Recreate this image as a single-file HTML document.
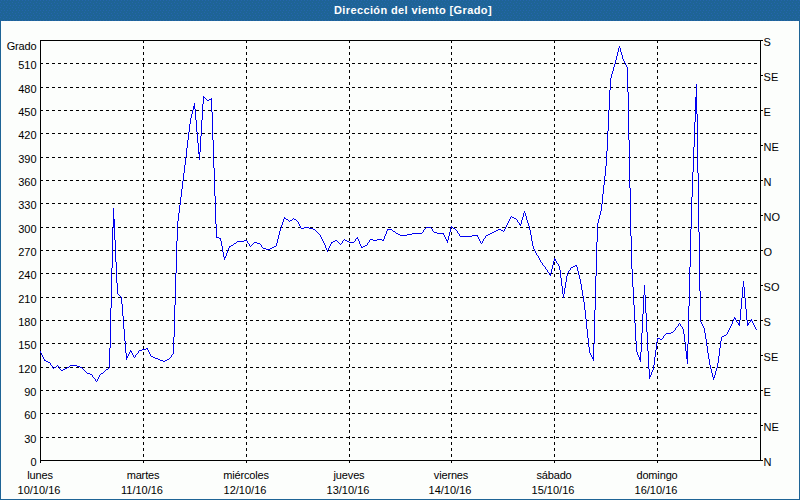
<!DOCTYPE html>
<html><head><meta charset="utf-8"><title>Dirección del viento [Grado]</title>
<style>
html,body{margin:0;padding:0;background:#fcfefc;}
body{width:800px;height:500px;overflow:hidden;position:relative;font-family:"Liberation Sans",sans-serif;}
#frame{position:absolute;left:0;top:0;width:800px;height:500px;box-sizing:border-box;border:1px solid #1e6496;border-top:none;background:#fcfefc;}
#bar{position:absolute;left:0;top:0;width:800px;height:21px;background:#1e6496;}
#title{position:absolute;left:334px;top:0;height:21px;color:#fff;font:bold 11px "Liberation Sans",sans-serif;line-height:21px;white-space:nowrap;letter-spacing:0.38px;}
</style></head><body>
<div id="frame"></div>
<div id="bar"><svg width="800" height="21" style="display:block" shape-rendering="crispEdges"><defs><pattern id="dz" width="6" height="5" patternUnits="userSpaceOnUse"><rect width="6" height="5" fill="#1e6496"/><rect x="1" y="0" width="1" height="1" fill="#2565ad"/><rect x="4" y="0" width="1" height="1" fill="#2565ad"/><rect x="0" y="2" width="1" height="1" fill="#2565ad"/><rect x="3" y="3" width="1" height="1" fill="#2565ad"/></pattern></defs><rect width="800" height="21" fill="url(#dz)"/></svg></div>
<div id="title">Dirección del viento [Grado]</div>
<svg width="800" height="500" viewBox="0 0 800 500" style="position:absolute;left:0;top:0">
<g shape-rendering="crispEdges" stroke="#000" stroke-width="1" fill="none">
<line x1="40" x2="760" y1="437.5" y2="437.5" stroke-dasharray="3 3"/>
<line x1="40" x2="760" y1="413.5" y2="413.5" stroke-dasharray="3 3"/>
<line x1="40" x2="760" y1="390.5" y2="390.5" stroke-dasharray="3 3"/>
<line x1="40" x2="760" y1="367.5" y2="367.5" stroke-dasharray="3 3"/>
<line x1="40" x2="760" y1="343.5" y2="343.5" stroke-dasharray="3 3"/>
<line x1="40" x2="760" y1="320.5" y2="320.5" stroke-dasharray="3 3"/>
<line x1="40" x2="760" y1="297.5" y2="297.5" stroke-dasharray="3 3"/>
<line x1="40" x2="760" y1="273.5" y2="273.5" stroke-dasharray="3 3"/>
<line x1="40" x2="760" y1="250.5" y2="250.5" stroke-dasharray="3 3"/>
<line x1="40" x2="760" y1="227.5" y2="227.5" stroke-dasharray="3 3"/>
<line x1="40" x2="760" y1="203.5" y2="203.5" stroke-dasharray="3 3"/>
<line x1="40" x2="760" y1="180.5" y2="180.5" stroke-dasharray="3 3"/>
<line x1="40" x2="760" y1="157.5" y2="157.5" stroke-dasharray="3 3"/>
<line x1="40" x2="760" y1="133.5" y2="133.5" stroke-dasharray="3 3"/>
<line x1="40" x2="760" y1="110.5" y2="110.5" stroke-dasharray="3 3"/>
<line x1="40" x2="760" y1="87.5" y2="87.5" stroke-dasharray="3 3"/>
<line x1="40" x2="760" y1="63.5" y2="63.5" stroke-dasharray="3 3"/>
<line x1="143.5" x2="143.5" y1="40" y2="460" stroke-dasharray="3 3"/>
<line x1="246.5" x2="246.5" y1="40" y2="460" stroke-dasharray="3 3"/>
<line x1="349.5" x2="349.5" y1="40" y2="460" stroke-dasharray="3 3"/>
<line x1="451.5" x2="451.5" y1="40" y2="460" stroke-dasharray="3 3"/>
<line x1="554.5" x2="554.5" y1="40" y2="460" stroke-dasharray="3 3"/>
<line x1="657.5" x2="657.5" y1="40" y2="460" stroke-dasharray="3 3"/>
<rect x="40.5" y="40.5" width="720" height="420"/>
<line x1="40.5" x2="40.5" y1="461" y2="463"/>
<line x1="143.5" x2="143.5" y1="461" y2="463"/>
<line x1="246.5" x2="246.5" y1="461" y2="463"/>
<line x1="349.5" x2="349.5" y1="461" y2="463"/>
<line x1="451.5" x2="451.5" y1="461" y2="463"/>
<line x1="554.5" x2="554.5" y1="461" y2="463"/>
<line x1="657.5" x2="657.5" y1="461" y2="463"/>
<line x1="761" x2="763" y1="40.5" y2="40.5"/>
<line x1="761" x2="763" y1="75.5" y2="75.5"/>
<line x1="761" x2="763" y1="110.5" y2="110.5"/>
<line x1="761" x2="763" y1="145.5" y2="145.5"/>
<line x1="761" x2="763" y1="180.5" y2="180.5"/>
<line x1="761" x2="763" y1="215.5" y2="215.5"/>
<line x1="761" x2="763" y1="250.5" y2="250.5"/>
<line x1="761" x2="763" y1="285.5" y2="285.5"/>
<line x1="761" x2="763" y1="320.5" y2="320.5"/>
<line x1="761" x2="763" y1="355.5" y2="355.5"/>
<line x1="761" x2="763" y1="390.5" y2="390.5"/>
<line x1="761" x2="763" y1="425.5" y2="425.5"/>
<line x1="761" x2="763" y1="460.5" y2="460.5"/>
</g>
<path d="M40 351h1v2h-1zM41 353h1v2h-1zM42 355h1v2h-1zM43 357h1v2h-1zM44 359h1v2h-1zM45 360h1v1h-1zM46 361h1v1h-1zM47 361h1v1h-1zM48 362h1v1h-1zM49 362h1v1h-1zM50 363h1v2h-1zM51 365h1v1h-1zM52 366h1v2h-1zM53 368h1v1h-1zM54 367h1v1h-1zM55 367h1v1h-1zM56 366h1v1h-1zM57 365h1v1h-1zM58 366h1v1h-1zM59 367h1v2h-1zM60 369h1v1h-1zM61 370h1v1h-1zM62 370h1v1h-1zM63 369h1v1h-1zM64 369h1v1h-1zM65 368h1v1h-1zM66 368h1v1h-1zM67 367h1v1h-1zM68 367h1v1h-1zM69 366h1v1h-1zM70 365h1v1h-1zM71 365h1v1h-1zM72 365h1v1h-1zM73 365h1v1h-1zM74 365h1v1h-1zM75 365h1v1h-1zM76 365h1v1h-1zM77 366h1v1h-1zM78 366h1v1h-1zM79 366h1v1h-1zM80 367h1v1h-1zM81 367h1v1h-1zM82 368h1v1h-1zM83 369h1v1h-1zM84 370h1v1h-1zM85 371h1v1h-1zM86 372h1v1h-1zM87 373h1v1h-1zM88 373h1v1h-1zM89 373h1v1h-1zM90 374h1v1h-1zM91 374h1v1h-1zM92 375h1v2h-1zM93 377h1v1h-1zM94 378h1v1h-1zM95 379h1v2h-1zM96 381h1v1h-1zM97 379h1v2h-1zM98 377h1v2h-1zM99 375h1v2h-1zM100 374h1v1h-1zM101 373h1v1h-1zM102 373h1v1h-1zM103 372h1v1h-1zM104 371h1v1h-1zM105 370h1v1h-1zM106 369h1v1h-1zM107 369h1v1h-1zM108 368h1v1h-1zM109 348h1v20h-1zM110 308h1v40h-1zM111 268h1v40h-1zM112 228h1v40h-1zM113 208h1v20h-1zM114 219h1v21h-1zM115 240h1v22h-1zM116 262h1v21h-1zM117 283h1v11h-1zM118 294h1v1h-1zM119 295h1v1h-1zM120 296h1v1h-1zM121 297h1v7h-1zM122 304h1v12h-1zM123 316h1v13h-1zM124 329h1v12h-1zM125 341h1v12h-1zM126 353h1v7h-1zM127 356h1v2h-1zM128 354h1v2h-1zM129 352h1v2h-1zM130 350h1v2h-1zM131 351h1v2h-1zM132 353h1v2h-1zM133 355h1v2h-1zM134 357h1v1h-1zM135 355h1v2h-1zM136 354h1v1h-1zM137 353h1v1h-1zM138 351h1v2h-1zM139 350h1v1h-1zM140 350h1v1h-1zM141 350h1v1h-1zM142 349h1v1h-1zM143 349h1v1h-1zM144 349h1v1h-1zM145 349h1v1h-1zM146 348h1v1h-1zM147 348h1v2h-1zM148 350h1v2h-1zM149 352h1v2h-1zM150 354h1v2h-1zM151 356h1v1h-1zM152 356h1v1h-1zM153 357h1v1h-1zM154 357h1v1h-1zM155 358h1v1h-1zM156 358h1v1h-1zM157 358h1v1h-1zM158 359h1v1h-1zM159 359h1v1h-1zM160 360h1v1h-1zM161 360h1v1h-1zM162 360h1v1h-1zM163 361h1v1h-1zM164 361h1v1h-1zM165 360h1v1h-1zM166 360h1v1h-1zM167 359h1v1h-1zM168 359h1v1h-1zM169 358h1v1h-1zM170 357h1v1h-1zM171 355h1v2h-1zM172 354h1v1h-1zM173 337h1v17h-1zM174 305h1v32h-1zM175 273h1v32h-1zM176 241h1v32h-1zM177 221h1v20h-1zM178 213h1v8h-1zM179 205h1v8h-1zM180 197h1v8h-1zM181 189h1v8h-1zM182 181h1v8h-1zM183 173h1v8h-1zM184 165h1v8h-1zM185 157h1v8h-1zM186 148h1v9h-1zM187 140h1v8h-1zM188 132h1v8h-1zM189 124h1v8h-1zM190 118h1v6h-1zM191 114h1v4h-1zM192 110h1v4h-1zM193 106h1v4h-1zM194 103h1v6h-1zM195 109h1v11h-1zM196 120h1v12h-1zM197 132h1v11h-1zM198 143h1v11h-1zM199 152h1v8h-1zM200 136h1v16h-1zM201 120h1v16h-1zM202 104h1v16h-1zM203 96h1v8h-1zM204 97h1v1h-1zM205 98h1v1h-1zM206 99h1v1h-1zM207 100h1v1h-1zM208 100h1v1h-1zM209 99h1v1h-1zM210 99h1v1h-1zM211 98h1v14h-1zM212 112h1v28h-1zM213 140h1v28h-1zM214 168h1v28h-1zM215 196h1v28h-1zM216 224h1v14h-1zM217 237h1v1h-1zM218 237h1v1h-1zM219 238h1v1h-1zM220 238h1v3h-1zM221 241h1v5h-1zM222 246h1v6h-1zM223 252h1v5h-1zM224 257h1v3h-1zM225 256h1v2h-1zM226 253h1v3h-1zM227 250h1v3h-1zM228 248h1v2h-1zM229 246h1v2h-1zM230 246h1v1h-1zM231 245h1v1h-1zM232 245h1v1h-1zM233 244h1v1h-1zM234 243h1v1h-1zM235 243h1v1h-1zM236 242h1v1h-1zM237 241h1v1h-1zM238 241h1v1h-1zM239 241h1v1h-1zM240 241h1v1h-1zM241 241h1v1h-1zM242 241h1v1h-1zM243 241h1v1h-1zM244 240h1v1h-1zM245 240h1v1h-1zM246 240h1v1h-1zM247 241h1v2h-1zM248 243h1v1h-1zM249 244h1v2h-1zM250 246h1v1h-1zM251 245h1v1h-1zM252 244h1v1h-1zM253 243h1v1h-1zM254 242h1v1h-1zM255 242h1v1h-1zM256 242h1v1h-1zM257 243h1v1h-1zM258 243h1v1h-1zM259 243h1v1h-1zM260 244h1v1h-1zM261 245h1v2h-1zM262 247h1v1h-1zM263 248h1v1h-1zM264 248h1v1h-1zM265 248h1v1h-1zM266 249h1v1h-1zM267 249h1v1h-1zM268 249h1v1h-1zM269 249h1v1h-1zM270 248h1v1h-1zM271 248h1v1h-1zM272 247h1v1h-1zM273 247h1v1h-1zM274 246h1v1h-1zM275 246h1v1h-1zM276 243h1v3h-1zM277 239h1v4h-1zM278 235h1v4h-1zM279 231h1v4h-1zM280 228h1v3h-1zM281 225h1v3h-1zM282 222h1v3h-1zM283 219h1v3h-1zM284 217h1v2h-1zM285 218h1v1h-1zM286 219h1v1h-1zM287 219h1v1h-1zM288 220h1v1h-1zM289 221h1v1h-1zM290 220h1v1h-1zM291 220h1v1h-1zM292 219h1v1h-1zM293 218h1v1h-1zM294 219h1v1h-1zM295 219h1v1h-1zM296 220h1v1h-1zM297 221h1v1h-1zM298 222h1v2h-1zM299 224h1v2h-1zM300 226h1v2h-1zM301 228h1v1h-1zM302 228h1v1h-1zM303 228h1v1h-1zM304 227h1v1h-1zM305 227h1v1h-1zM306 227h1v1h-1zM307 227h1v1h-1zM308 227h1v1h-1zM309 228h1v1h-1zM310 228h1v1h-1zM311 228h1v1h-1zM312 228h1v1h-1zM313 229h1v1h-1zM314 229h1v1h-1zM315 230h1v1h-1zM316 231h1v1h-1zM317 232h1v1h-1zM318 233h1v1h-1zM319 234h1v1h-1zM320 235h1v2h-1zM321 237h1v2h-1zM322 239h1v2h-1zM323 241h1v2h-1zM324 243h1v2h-1zM325 245h1v3h-1zM326 248h1v2h-1zM327 250h1v2h-1zM328 248h1v2h-1zM329 246h1v2h-1zM330 244h1v2h-1zM331 242h1v2h-1zM332 242h1v1h-1zM333 241h1v1h-1zM334 241h1v1h-1zM335 240h1v1h-1zM336 240h1v1h-1zM337 241h1v1h-1zM338 242h1v1h-1zM339 243h1v1h-1zM340 244h1v1h-1zM341 243h1v1h-1zM342 241h1v2h-1zM343 240h1v1h-1zM344 239h1v1h-1zM345 240h1v1h-1zM346 240h1v1h-1zM347 241h1v1h-1zM348 241h1v1h-1zM349 242h1v1h-1zM350 242h1v1h-1zM351 242h1v1h-1zM352 242h1v1h-1zM353 242h1v1h-1zM354 241h1v1h-1zM355 239h1v2h-1zM356 238h1v1h-1zM357 237h1v2h-1zM358 239h1v2h-1zM359 241h1v3h-1zM360 244h1v2h-1zM361 246h1v2h-1zM362 247h1v1h-1zM363 246h1v1h-1zM364 246h1v1h-1zM365 245h1v1h-1zM366 245h1v1h-1zM367 243h1v2h-1zM368 242h1v1h-1zM369 240h1v2h-1zM370 239h1v1h-1zM371 239h1v1h-1zM372 239h1v1h-1zM373 240h1v1h-1zM374 240h1v1h-1zM375 240h1v1h-1zM376 240h1v1h-1zM377 239h1v1h-1zM378 239h1v1h-1zM379 239h1v1h-1zM380 239h1v1h-1zM381 239h1v1h-1zM382 240h1v1h-1zM383 239h1v2h-1zM384 236h1v3h-1zM385 234h1v2h-1zM386 231h1v3h-1zM387 229h1v2h-1zM388 229h1v1h-1zM389 229h1v1h-1zM390 229h1v1h-1zM391 229h1v1h-1zM392 230h1v1h-1zM393 231h1v1h-1zM394 231h1v1h-1zM395 232h1v1h-1zM396 233h1v1h-1zM397 233h1v1h-1zM398 234h1v1h-1zM399 234h1v1h-1zM400 235h1v1h-1zM401 235h1v1h-1zM402 235h1v1h-1zM403 235h1v1h-1zM404 235h1v1h-1zM405 235h1v1h-1zM406 235h1v1h-1zM407 234h1v1h-1zM408 234h1v1h-1zM409 234h1v1h-1zM410 234h1v1h-1zM411 234h1v1h-1zM412 233h1v1h-1zM413 233h1v1h-1zM414 233h1v1h-1zM415 233h1v1h-1zM416 233h1v1h-1zM417 233h1v1h-1zM418 233h1v1h-1zM419 233h1v1h-1zM420 233h1v1h-1zM421 233h1v1h-1zM422 232h1v1h-1zM423 230h1v2h-1zM424 229h1v1h-1zM425 228h1v1h-1zM426 227h1v1h-1zM427 227h1v1h-1zM428 227h1v1h-1zM429 227h1v1h-1zM430 227h1v1h-1zM431 228h1v1h-1zM432 229h1v2h-1zM433 231h1v1h-1zM434 232h1v1h-1zM435 232h1v1h-1zM436 232h1v1h-1zM437 233h1v1h-1zM438 233h1v1h-1zM439 233h1v1h-1zM440 233h1v1h-1zM441 233h1v1h-1zM442 233h1v1h-1zM443 233h1v2h-1zM444 235h1v2h-1zM445 237h1v2h-1zM446 239h1v2h-1zM447 240h1v3h-1zM448 236h1v4h-1zM449 232h1v4h-1zM450 228h1v4h-1zM451 226h1v2h-1zM452 227h1v1h-1zM453 228h1v1h-1zM454 228h1v1h-1zM455 229h1v1h-1zM456 230h1v1h-1zM457 231h1v2h-1zM458 233h1v1h-1zM459 234h1v2h-1zM460 236h1v1h-1zM461 236h1v1h-1zM462 236h1v1h-1zM463 236h1v1h-1zM464 236h1v1h-1zM465 236h1v1h-1zM466 236h1v1h-1zM467 236h1v1h-1zM468 236h1v1h-1zM469 236h1v1h-1zM470 236h1v1h-1zM471 236h1v1h-1zM472 235h1v1h-1zM473 235h1v1h-1zM474 235h1v1h-1zM475 235h1v1h-1zM476 235h1v1h-1zM477 235h1v2h-1zM478 237h1v2h-1zM479 239h1v2h-1zM480 241h1v2h-1zM481 243h1v1h-1zM482 241h1v2h-1zM483 239h1v2h-1zM484 238h1v1h-1zM485 236h1v2h-1zM486 235h1v1h-1zM487 235h1v1h-1zM488 234h1v1h-1zM489 234h1v1h-1zM490 233h1v1h-1zM491 233h1v1h-1zM492 232h1v1h-1zM493 232h1v1h-1zM494 231h1v1h-1zM495 231h1v1h-1zM496 230h1v1h-1zM497 230h1v1h-1zM498 229h1v1h-1zM499 229h1v1h-1zM500 229h1v1h-1zM501 230h1v1h-1zM502 230h1v1h-1zM503 231h1v1h-1zM504 229h1v2h-1zM505 227h1v2h-1zM506 225h1v2h-1zM507 223h1v2h-1zM508 221h1v2h-1zM509 219h1v2h-1zM510 217h1v2h-1zM511 216h1v1h-1zM512 217h1v1h-1zM513 217h1v1h-1zM514 218h1v1h-1zM515 218h1v1h-1zM516 219h1v1h-1zM517 220h1v2h-1zM518 222h1v1h-1zM519 223h1v2h-1zM520 224h1v2h-1zM521 220h1v4h-1zM522 217h1v3h-1zM523 213h1v4h-1zM524 211h1v2h-1zM525 213h1v3h-1zM526 216h1v4h-1zM527 220h1v3h-1zM528 223h1v3h-1zM529 226h1v4h-1zM530 230h1v5h-1zM531 235h1v6h-1zM532 241h1v5h-1zM533 246h1v3h-1zM534 249h1v2h-1zM535 251h1v2h-1zM536 253h1v2h-1zM537 255h1v1h-1zM538 256h1v2h-1zM539 258h1v2h-1zM540 260h1v2h-1zM541 262h1v1h-1zM542 263h1v2h-1zM543 265h1v1h-1zM544 266h1v1h-1zM545 267h1v2h-1zM546 269h1v1h-1zM547 270h1v2h-1zM548 272h1v1h-1zM549 273h1v2h-1zM550 273h1v3h-1zM551 269h1v4h-1zM552 265h1v4h-1zM553 261h1v4h-1zM554 258h1v3h-1zM555 259h1v2h-1zM556 261h1v2h-1zM557 263h1v1h-1zM558 264h1v2h-1zM559 266h1v4h-1zM560 270h1v8h-1zM561 278h1v8h-1zM562 286h1v8h-1zM563 294h1v4h-1zM564 288h1v6h-1zM565 282h1v6h-1zM566 276h1v6h-1zM567 273h1v3h-1zM568 271h1v2h-1zM569 270h1v1h-1zM570 268h1v2h-1zM571 267h1v1h-1zM572 267h1v1h-1zM573 266h1v1h-1zM574 266h1v1h-1zM575 265h1v1h-1zM576 265h1v2h-1zM577 267h1v4h-1zM578 271h1v4h-1zM579 275h1v4h-1zM580 279h1v5h-1zM581 284h1v6h-1zM582 290h1v6h-1zM583 296h1v6h-1zM584 302h1v8h-1zM585 310h1v9h-1zM586 319h1v10h-1zM587 329h1v9h-1zM588 338h1v9h-1zM589 347h1v6h-1zM590 353h1v2h-1zM591 355h1v2h-1zM592 357h1v2h-1zM593 344h1v17h-1zM594 310h1v34h-1zM595 276h1v34h-1zM596 242h1v34h-1zM597 223h1v19h-1zM598 219h1v4h-1zM599 215h1v4h-1zM600 211h1v4h-1zM601 204h1v7h-1zM602 194h1v10h-1zM603 185h1v9h-1zM604 176h1v9h-1zM605 166h1v10h-1zM606 151h1v15h-1zM607 131h1v20h-1zM608 110h1v21h-1zM609 90h1v20h-1zM610 78h1v12h-1zM611 74h1v4h-1zM612 71h1v3h-1zM613 67h1v4h-1zM614 64h1v3h-1zM615 60h1v4h-1zM616 56h1v4h-1zM617 52h1v4h-1zM618 48h1v4h-1zM619 46h1v2h-1zM620 48h1v4h-1zM621 52h1v3h-1zM622 55h1v4h-1zM623 59h1v2h-1zM624 61h1v2h-1zM625 63h1v2h-1zM626 65h1v2h-1zM627 67h1v25h-1zM628 92h1v48h-1zM629 140h1v48h-1zM630 188h1v48h-1zM631 236h1v33h-1zM632 269h1v18h-1zM633 287h1v18h-1zM634 305h1v18h-1zM635 323h1v18h-1zM636 341h1v11h-1zM637 352h1v3h-1zM638 355h1v2h-1zM639 357h1v3h-1zM640 352h1v10h-1zM641 333h1v19h-1zM642 314h1v19h-1zM643 295h1v19h-1zM644 285h1v10h-1zM645 295h1v18h-1zM646 313h1v19h-1zM647 332h1v19h-1zM648 351h1v18h-1zM649 369h1v10h-1zM650 375h1v2h-1zM651 372h1v3h-1zM652 370h1v2h-1zM653 365h1v5h-1zM654 357h1v8h-1zM655 350h1v7h-1zM656 342h1v8h-1zM657 338h1v4h-1zM658 338h1v1h-1zM659 338h1v1h-1zM660 339h1v1h-1zM661 339h1v1h-1zM662 338h1v1h-1zM663 336h1v2h-1zM664 335h1v1h-1zM665 334h1v1h-1zM666 333h1v1h-1zM667 333h1v1h-1zM668 333h1v1h-1zM669 333h1v1h-1zM670 333h1v1h-1zM671 332h1v1h-1zM672 332h1v1h-1zM673 331h1v1h-1zM674 330h1v1h-1zM675 328h1v2h-1zM676 327h1v1h-1zM677 326h1v1h-1zM678 324h1v2h-1zM679 323h1v1h-1zM680 324h1v2h-1zM681 326h1v1h-1zM682 327h1v2h-1zM683 329h1v5h-1zM684 334h1v8h-1zM685 342h1v9h-1zM686 351h1v8h-1zM687 344h1v20h-1zM688 306h1v38h-1zM689 267h1v39h-1zM690 229h1v38h-1zM691 197h1v32h-1zM692 172h1v25h-1zM693 147h1v25h-1zM694 122h1v25h-1zM695 97h1v25h-1zM696 84h1v30h-1zM697 114h1v59h-1zM698 173h1v59h-1zM699 232h1v59h-1zM700 291h1v31h-1zM701 322h1v2h-1zM702 324h1v2h-1zM703 326h1v2h-1zM704 328h1v5h-1zM705 333h1v6h-1zM706 339h1v7h-1zM707 346h1v7h-1zM708 353h1v6h-1zM709 359h1v6h-1zM710 365h1v4h-1zM711 369h1v4h-1zM712 373h1v4h-1zM713 377h1v3h-1zM714 375h1v3h-1zM715 371h1v4h-1zM716 368h1v3h-1zM717 363h1v5h-1zM718 356h1v7h-1zM719 348h1v8h-1zM720 341h1v7h-1zM721 337h1v4h-1zM722 336h1v1h-1zM723 336h1v1h-1zM724 335h1v1h-1zM725 335h1v1h-1zM726 334h1v1h-1zM727 332h1v2h-1zM728 330h1v2h-1zM729 328h1v2h-1zM730 326h1v2h-1zM731 324h1v2h-1zM732 321h1v3h-1zM733 319h1v2h-1zM734 317h1v2h-1zM735 318h1v2h-1zM736 320h1v2h-1zM737 322h1v1h-1zM738 323h1v2h-1zM739 320h1v6h-1zM740 309h1v11h-1zM741 298h1v11h-1zM742 287h1v11h-1zM743 281h1v6h-1zM744 287h1v11h-1zM745 298h1v11h-1zM746 309h1v11h-1zM747 320h1v6h-1zM748 323h1v2h-1zM749 322h1v1h-1zM750 320h1v2h-1zM751 319h1v2h-1zM752 321h1v2h-1zM753 323h1v2h-1zM754 325h1v2h-1zM755 327h1v2h-1zM756 329h1v1h-1z" fill="#0000f0" shape-rendering="crispEdges"/>
<g font-family="Liberation Sans, sans-serif" font-size="11" fill="#000">
<text x="36.5" y="466" text-anchor="end">0</text>
<text x="36.5" y="443" text-anchor="end">30</text>
<text x="36.5" y="419" text-anchor="end">60</text>
<text x="36.5" y="396" text-anchor="end">90</text>
<text x="36.5" y="373" text-anchor="end">120</text>
<text x="36.5" y="349" text-anchor="end">150</text>
<text x="36.5" y="326" text-anchor="end">180</text>
<text x="36.5" y="303" text-anchor="end">210</text>
<text x="36.5" y="279" text-anchor="end">240</text>
<text x="36.5" y="256" text-anchor="end">270</text>
<text x="36.5" y="233" text-anchor="end">300</text>
<text x="36.5" y="209" text-anchor="end">330</text>
<text x="36.5" y="186" text-anchor="end">360</text>
<text x="36.5" y="163" text-anchor="end">390</text>
<text x="36.5" y="139" text-anchor="end">420</text>
<text x="36.5" y="116" text-anchor="end">450</text>
<text x="36.5" y="93" text-anchor="end">480</text>
<text x="36.5" y="69" text-anchor="end">510</text>
<text x="36.5" y="50" text-anchor="end" letter-spacing="-0.15">Grado</text>
<text x="763.6" y="46">S</text>
<text x="763.6" y="81">SE</text>
<text x="763.6" y="116">E</text>
<text x="763.6" y="151">NE</text>
<text x="763.6" y="186">N</text>
<text x="763.6" y="221">NO</text>
<text x="763.6" y="256">O</text>
<text x="763.6" y="291">SO</text>
<text x="763.6" y="326">S</text>
<text x="763.6" y="361">SE</text>
<text x="763.6" y="396">E</text>
<text x="763.6" y="431">NE</text>
<text x="763.6" y="466">N</text>
<text x="40" y="479" text-anchor="middle" letter-spacing="-0.15">lunes</text>
<text x="39" y="494" text-anchor="middle">10/10/16</text>
<text x="143" y="479" text-anchor="middle" letter-spacing="-0.15">martes</text>
<text x="142" y="494" text-anchor="middle">11/10/16</text>
<text x="246" y="479" text-anchor="middle" letter-spacing="-0.15">miércoles</text>
<text x="245" y="494" text-anchor="middle">12/10/16</text>
<text x="349" y="479" text-anchor="middle" letter-spacing="-0.15">jueves</text>
<text x="348" y="494" text-anchor="middle">13/10/16</text>
<text x="451" y="479" text-anchor="middle" letter-spacing="-0.15">viernes</text>
<text x="450" y="494" text-anchor="middle">14/10/16</text>
<text x="554" y="479" text-anchor="middle" letter-spacing="-0.15">sábado</text>
<text x="553" y="494" text-anchor="middle">15/10/16</text>
<text x="657" y="479" text-anchor="middle" letter-spacing="-0.15">domingo</text>
<text x="656" y="494" text-anchor="middle">16/10/16</text>
</g>
</svg>
</body></html>
